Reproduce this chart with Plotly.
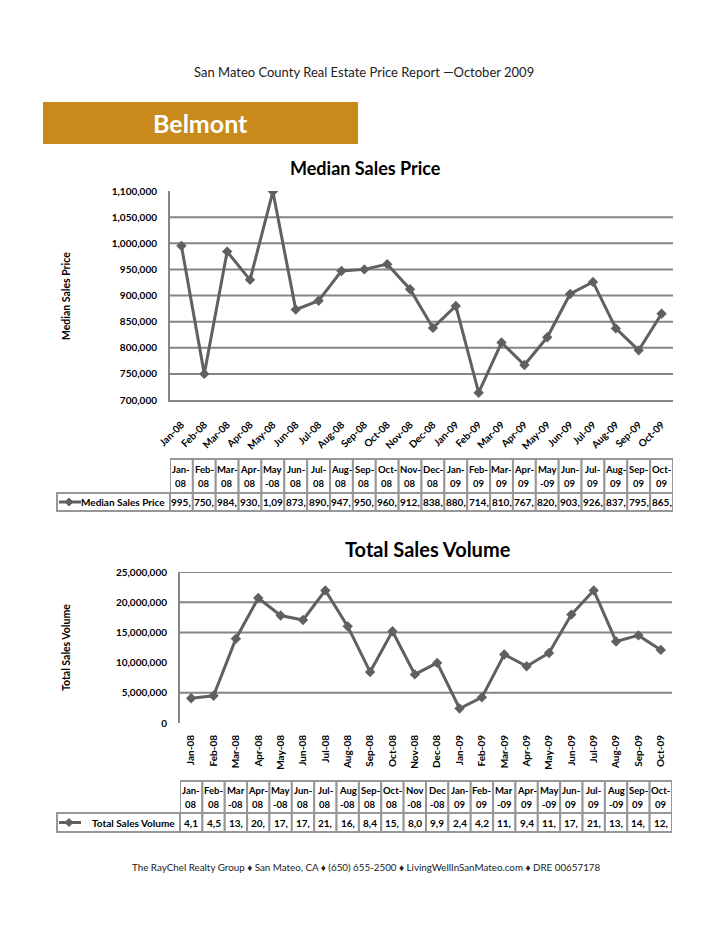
import plotly.graph_objects as go

W, H = 728, 942

# ---------------- data ----------------
months = ["Jan-08", "Feb-08", "Mar-08", "Apr-08", "May-08", "Jun-08", "Jul-08", "Aug-08",
          "Sep-08", "Oct-08", "Nov-08", "Dec-08", "Jan-09", "Feb-09", "Mar-09", "Apr-09",
          "May-09", "Jun-09", "Jul-09", "Aug-09", "Sep-09", "Oct-09"]
median_price = [995000, 750000, 984000, 930000, 1099000, 873000, 890000, 947000,
                950000, 960000, 912000, 838000, 880000, 714000, 810000, 767000,
                820000, 903000, 926000, 837000, 795000, 865000]
total_volume = [4100000, 4500000, 13950000, 20700000, 17800000, 17050000, 21950000, 16000000,
                8450000, 15200000, 8050000, 9950000, 2400000, 4250000, 11350000, 9400000,
                11600000, 17950000, 21950000, 13500000, 14500000, 12100000]
price_ticks = [700000, 750000, 800000, 850000, 900000, 950000, 1000000, 1050000, 1100000]
price_grid = [750000, 800000, 850000, 900000, 950000, 1000000, 1050000]
volume_ticks = [0, 5000000, 10000000, 15000000, 20000000, 25000000]
volume_grid = [5000000, 15000000, 20000000, 25000000]
# months whose table header wraps before the hyphen
wrap_before_1 = {"May"}
wrap_before_2 = {"Mar", "May", "Aug", "Nov", "Dec"}

# ---------------- style ----------------
FONT = "Lato"
SER = "#606060"
GRID = "#858585"
BORDER = "#979797"
GOLD = "#C78A1B"


def px(x):
    return x / W


def py(y):
    return 1 - y / H


fig = go.Figure()
fig.add_trace(go.Scatter(x=months, y=median_price, mode="lines+markers",
                         line=dict(color=SER, width=3),
                         marker=dict(symbol="diamond", size=8, color=SER),
                         xaxis="x", yaxis="y", showlegend=False, hoverinfo="skip"))
fig.add_trace(go.Scatter(x=months, y=total_volume, mode="lines+markers",
                         line=dict(color=SER, width=3),
                         marker=dict(symbol="diamond", size=8, color=SER),
                         xaxis="x2", yaxis="y2", showlegend=False, hoverinfo="skip"))

tickfont = dict(family=FONT, size=10, color="black", weight="bold")
yfont = dict(family=FONT, size=10, color="black", weight="bold")
n = len(months)

fig.update_layout(
    template="none",
    width=W, height=H, margin=dict(l=0, r=0, t=0, b=0, pad=0, autoexpand=False),
    paper_bgcolor="white", plot_bgcolor="white", showlegend=False,
    xaxis=dict(domain=[px(170), px(673)], anchor="y", type="category", automargin=False,
               range=[-0.5, n - 0.5], tickangle=-45, tickfont=tickfont,
               showgrid=False, showline=True, linecolor=GRID, linewidth=2,
               ticks="", ticklabelstandoff=13, zeroline=False),
    yaxis=dict(domain=[py(400), py(191)], anchor="x", automargin=False,
               range=[price_ticks[0], price_ticks[-1]],
               tickvals=price_ticks, tickformat=",", tickfont=yfont,
               showgrid=False, showline=True, linecolor=GRID, linewidth=2,
               ticks="", ticklabelstandoff=9, zeroline=False),
    xaxis2=dict(domain=[px(180), px(672)], anchor="y2", type="category", automargin=False,
                range=[-0.5, n - 0.5], tickangle=-90, tickfont=tickfont,
                showgrid=False, showline=False, ticks="", ticklabelstandoff=9,
                zeroline=False),
    yaxis2=dict(domain=[py(723), py(572)], anchor="x2", automargin=False,
                range=[volume_ticks[0], volume_ticks[-1]],
                tickvals=volume_ticks, tickformat=",", tickfont=yfont,
                showgrid=False, showline=True, linecolor=GRID, linewidth=2,
                ticks="", ticklabelstandoff=9, zeroline=False),
)

shapes = []
annots = []


def note(text, x, y, font, xref="paper", xanchor="center", textangle=0):
    annots.append(dict(text=text, x=x, y=y, xref=xref, yref="paper", showarrow=False,
                       xanchor=xanchor, yanchor="middle", textangle=textangle, font=font))


# gridlines
for v in price_grid:
    shapes.append(dict(type="line", xref="x domain", x0=0, x1=1, yref="y", y0=v, y1=v,
                       line=dict(color=GRID, width=2), layer="below"))
for v in volume_grid:
    shapes.append(dict(type="line", xref="x2 domain", x0=0, x1=1, yref="y2", y0=v, y1=v,
                       line=dict(color=GRID, width=2), layer="below"))

# header / banner / footer
note("San Mateo County Real Estate Price Report \u2014October 2009", px(364), py(72),
     dict(family=FONT, size=13, color="#222"))
shapes.append(dict(type="rect", xref="paper", yref="paper", x0=px(43), x1=px(358),
                   y0=py(144), y1=py(102), fillcolor=GOLD, line=dict(width=0)))
note("Belmont", px(200), py(123), dict(family=FONT, size=25, color="white", weight="bold"))
note("The RayChel Realty Group \u2666 San Mateo, CA \u2666 (650) 655-2500 \u2666 "
     "LivingWellInSanMateo.com \u2666 DRE 00657178", px(366), py(867),
     dict(family=FONT, size=9.8, color="#222"))

# chart titles
axis_title_font = dict(family=FONT, size=10.5, color="black", weight="bold")
note("Median Sales Price", px(365), py(168), dict(family=FONT, size=18, color="black", weight="bold"))
note("Total Sales Volume", px(428), py(549), dict(family=FONT, size=20, color="black", weight="bold"))
note("Median Sales Price", px(66), py(296), axis_title_font, textangle=-90)
note("Total Sales Volume", px(66), py(648), axis_title_font, textangle=-90)


def draw_table(xref, values, nchars, name, wraps, y_top, y_mid, y_bot, left, axis_left):
    cf = dict(family=FONT, size=9.5, color="black", weight="bold")
    vf = dict(family=FONT, size=10, color="black", weight="bold")
    l1 = y_top + (y_mid - y_top) * 0.3
    l2 = y_top + (y_mid - y_top) * 0.72
    for i, (m, v) in enumerate(zip(months, values)):
        for (a, b) in ((y_top, y_mid), (y_mid, y_bot)):
            shapes.append(dict(type="rect", xref=xref, x0=i - 0.5, x1=i + 0.5,
                               yref="paper", y0=py(b), y1=py(a),
                               line=dict(color=BORDER, width=2), fillcolor="white"))
        mon, yr = m.split("-")
        if mon in wraps:
            top, bot = mon, "-" + yr
        else:
            top, bot = mon + "-", yr
        note(top, i, py(l1), cf, xref=xref)
        note(bot, i, py(l2), cf, xref=xref)
        note(f"{v:,}"[:nchars], i, py((y_mid + y_bot) / 2), vf, xref=xref)
    shapes.append(dict(type="rect", xref="paper", yref="paper", x0=px(left), x1=px(axis_left),
                       y0=py(y_bot), y1=py(y_mid), line=dict(color=BORDER, width=2),
                       fillcolor="white"))
    yc = (y_mid + y_bot) / 2
    shapes.append(dict(type="line", xref="paper", yref="paper", x0=px(left + 2), x1=px(left + 24),
                       y0=py(yc), y1=py(yc), line=dict(color=SER, width=3)))
    dx, dy, cx = 4, 4, left + 12
    shapes.append(dict(type="path", xref="paper", yref="paper",
                       path=f"M {px(cx - dx)},{py(yc)} L {px(cx)},{py(yc - dy)} "
                            f"L {px(cx + dx)},{py(yc)} L {px(cx)},{py(yc + dy)} Z",
                       fillcolor=SER, line=dict(color=SER, width=1)))
    note(name, px(axis_left - 3), py(yc), vf, xanchor="right")


draw_table("x", median_price, 4, "Median Sales Price", wrap_before_1, 459, 493, 511, 57, 170)
draw_table("x2", total_volume, 3, "Total Sales Volume", wrap_before_2, 781, 813, 832, 57, 180)

fig.update_layout(shapes=shapes, annotations=annots)

fig.write_html("out.html", config={"displayModeBar": False},
               post_script="document.body.style.margin='0';")
